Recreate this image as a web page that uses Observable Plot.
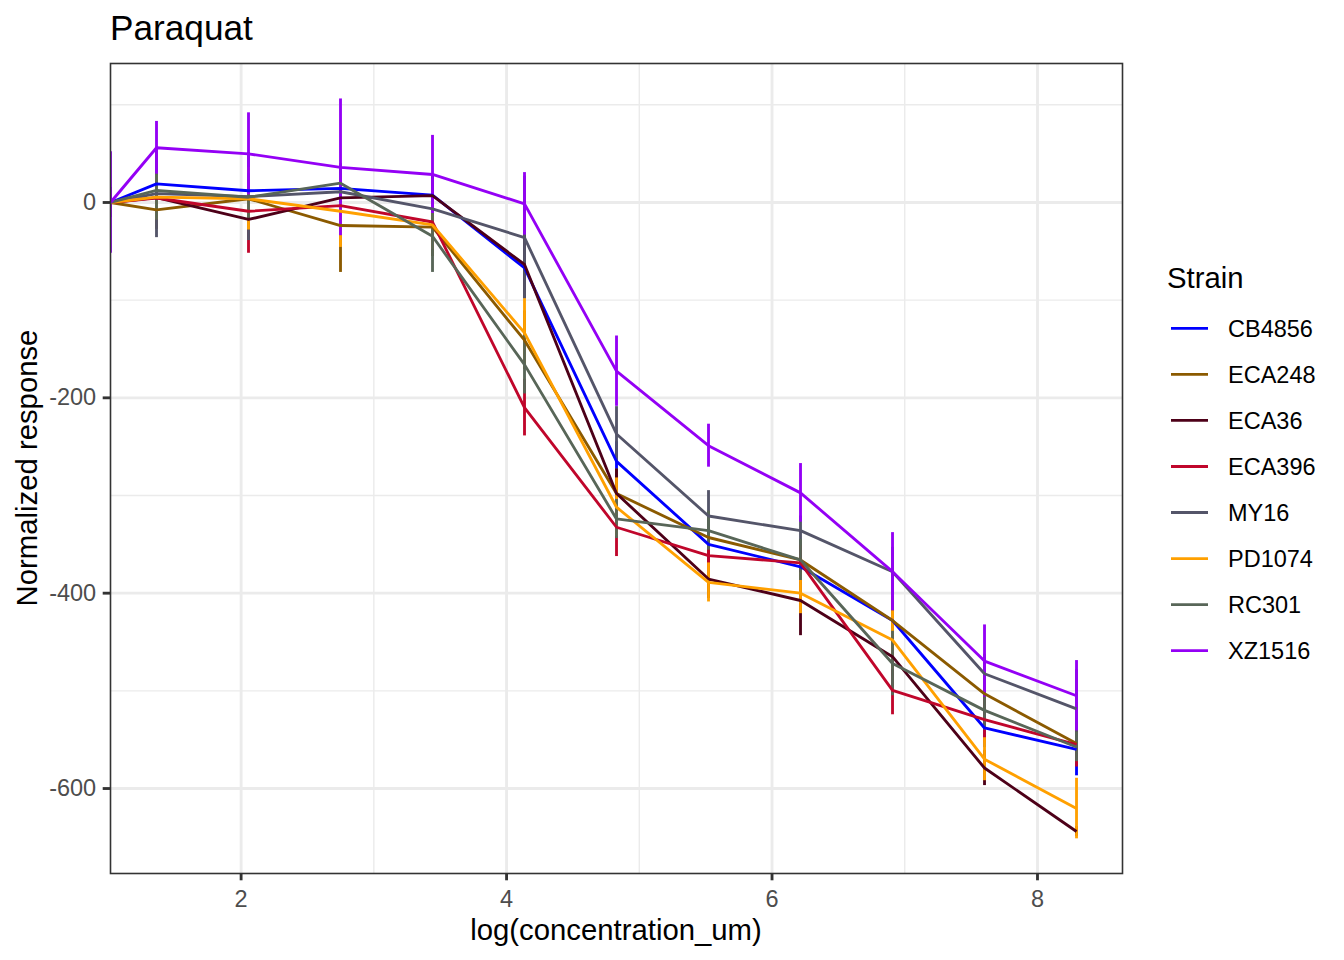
<!DOCTYPE html>
<html><head><meta charset="utf-8">
<script src="https://cdn.jsdelivr.net/npm/d3@7"></script>
<script src="https://cdn.jsdelivr.net/npm/@observablehq/plot@0.6"></script>
<style>
body{margin:0;background:#fff;}
#chart svg{display:block;}
</style></head><body><div id="chart"></div>
<script>
const strains = ["CB4856","ECA248","ECA36","ECA396","MY16","PD1074","RC301","XZ1516"];
const strainColors = ["#0000FF","#8B5A00","#4D0018","#C0062B","#545569","#FFA000","#586658","#9400F5"];
const concentrations = [0, 3.90625, 7.8125, 15.625, 31.25, 62.5, 125, 250, 500, 1000, 2000, 4000];

const meanCB4856 = [0, 19, 12, 14.5, 7.5, -67, -265, -350, -373, -428, -538, -560];
const meanECA248 = [0, -7.5, 3.8, -23.6, -25.3, -141, -298, -343, -366, -428, -503, -554];
const meanECA36  = [0, 5, -17.4, 4.8, 7, -63.5, -298, -385.5, -407.5, -465, -579, -644];
const meanECA396 = [0, 4.6, -9, -3.2, -20, -210, -332.5, -361.5, -369, -499.5, -529.5, -555];
const meanMY16   = [0, 9, 6, 11, -6.5, -36, -237, -321, -336, -378, -482.5, -518.5];
const meanPD1074 = [0, 5.5, 3.8, -9, -23, -133.5, -312, -389, -400, -448, -570, -620.5];
const meanRC301  = [0, 12.3, 5.4, 19.8, -34.6, -166, -324, -336, -366, -472, -520, -557.5];
const meanXZ1516 = [0, 56, 49.8, 36, 28.7, -1.4, -172.7, -249, -297.3, -378, -469.5, -505];

const sdCB4856 = [15, 12, 15, 15, 15, 25, 20, 18, 18, 20, 20, 27];
const sdECA248 = [10, 20, 20, 48, 30, 30, 25, 20, 20, 25, 20, 20];
const sdECA36  = [10, 15, 20, 15, 20, 35, 25, 20, 36, 20, 18, 5];
const sdECA396 = [15, 15, 43, 20, 20, 29, 30, 20, 20, 25, 24, 23];
const sdMY16   = [15, 45, 45, 25, 30, 63, 28, 26, 15, 25, 20, 40];
const sdPD1074 = [10, 23, 32, 37, 25, 35, 30, 20, 21, 30, 22, 31];
const sdRC301  = [10, 30, 24, 20, 37, 30, 20, 20, 21, 33, 20, 15];
const sdXZ1516 = [52, 27, 42, 70, 40, 32, 36, 22, 30, 40, 37, 36];

const xTicks = [2, 4, 6, 8];
const xMinor = [3, 5, 7];
const yTicks = [0, -200, -400, -600];
const yMinor = [100, -100, -300, -500];
const xDomain = [1.016, 8.6405];
const yDomain = [-687, 142.3];

const meanSeries = [meanCB4856, meanECA248, meanECA36, meanECA396, meanMY16, meanPD1074, meanRC301, meanXZ1516];
const sdSeries = [sdCB4856, sdECA248, sdECA36, sdECA396, sdMY16, sdPD1074, sdRC301, sdXZ1516];

const table = [];
strains.forEach((s, si) => {
  concentrations.forEach((c, ci) => {
    const m = meanSeries[si][ci], sd = sdSeries[si][ci];
    table.push({strain: s, x: c > 0 ? Math.log(c) : xDomain[0], mean: m, lo: m - sd, hi: m + sd});
  });
});

const FONT = "Liberation Sans, Arial, Helvetica, sans-serif";
const W = 1344, H = 960, ML = 110, MR = 222, MT = 63, MB = 87;

const svg = Plot.plot({
  width: W, height: H,
  marginLeft: ML, marginRight: MR, marginTop: MT, marginBottom: MB,
  x: {domain: xDomain},
  y: {domain: yDomain},
  color: {domain: strains, range: strainColors},
  style: {fontFamily: FONT, background: "white", overflow: "visible"},
  marks: [
    Plot.ruleX(xMinor, {stroke: "#EBEBEB", strokeWidth: 1.42}),
    Plot.ruleY(yMinor, {stroke: "#EBEBEB", strokeWidth: 1.42}),
    Plot.ruleX(xTicks, {stroke: "#EBEBEB", strokeWidth: 2.85}),
    Plot.ruleY(yTicks, {stroke: "#EBEBEB", strokeWidth: 2.85}),
    Plot.ruleX(table, {x: "x", y1: "lo", y2: "hi", stroke: "strain", strokeWidth: 2.85, strokeLinecap: "butt", clip: true}),
    Plot.line(table, {x: "x", y: "mean", z: "strain", stroke: "strain", strokeWidth: 2.85, strokeLinecap: "butt", strokeLinejoin: "round", clip: true}),
    Plot.frame({stroke: "#333333", strokeWidth: 1.6}),
    Plot.axisX({ticks: xTicks, tickSize: 7.3, tickPadding: 10, fontSize: 23.5, stroke: "#333333", fill: "#4D4D4D", strokeWidth: 2.85, label: null, tickFormat: d => String(d)}),
    Plot.axisY({ticks: yTicks, tickSize: 7.3, tickPadding: 7, fontSize: 23.5, stroke: "#333333", fill: "#4D4D4D", strokeWidth: 2.85, label: null, tickFormat: d => String(d)})
  ]
});

document.getElementById("chart").appendChild(svg);

const g = d3.select(svg).append("g").attr("font-family", FONT).attr("text-anchor", "start");
// Title
g.append("text").attr("x", ML).attr("y", 40).attr("text-anchor", "start").attr("font-size", 35.2).attr("fill", "black").text("Paraquat");
// Axis titles
g.append("text").attr("x", ML + (W - ML - MR) / 2).attr("y", 940).attr("text-anchor", "middle")
  .attr("font-size", 29.3).attr("fill", "black").text("log(concentration_um)");
g.append("text").attr("transform", `translate(37,${MT + (H - MT - MB) / 2}) rotate(-90)`).attr("text-anchor", "middle")
  .attr("font-size", 29.3).attr("fill", "black").text("Normalized response");
// Legend
const lg = g.append("g");
lg.append("text").attr("x", 1167).attr("y", 288.3).attr("text-anchor", "start").attr("font-size", 29.3).attr("fill", "black").text("Strain");
strains.forEach((s, i) => {
  const yy = 328.3 + i * 46.05;
  lg.append("line").attr("x1", 1171).attr("x2", 1208).attr("y1", yy).attr("y2", yy)
    .attr("stroke", strainColors[i]).attr("stroke-width", 2.85);
  lg.append("text").attr("x", 1228).attr("y", yy + 8.4).attr("text-anchor", "start").attr("font-size", 23.5).attr("fill", "black").text(s);
});
</script>
</body></html>
